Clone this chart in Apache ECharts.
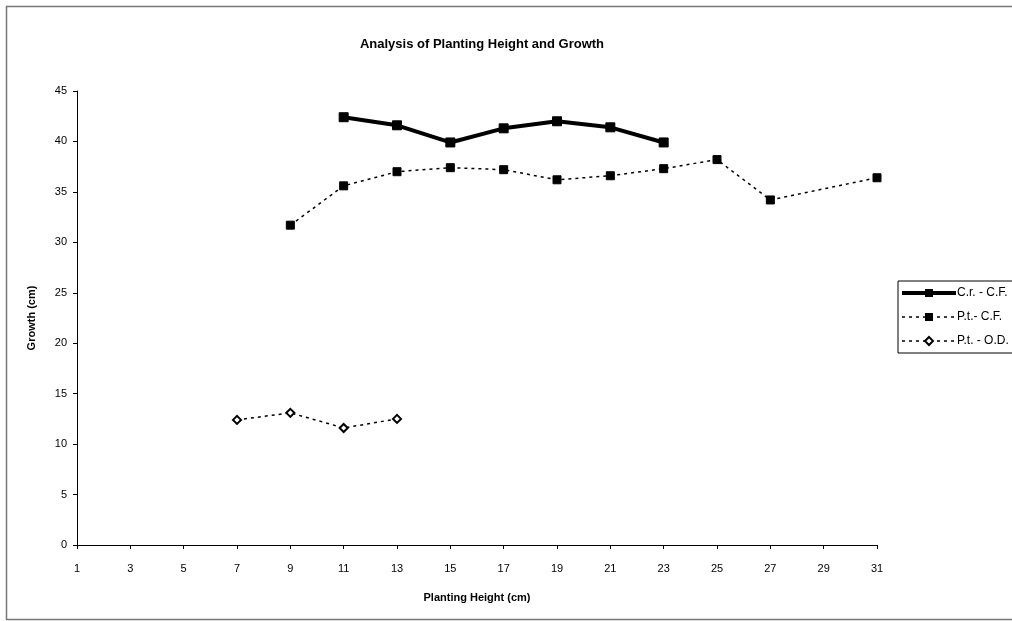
<!DOCTYPE html>
<html>
<head>
<meta charset="utf-8">
<script src="https://cdn.jsdelivr.net/npm/echarts@6/dist/echarts.min.js"></script>
<style>
html,body{margin:0;padding:0;background:#fff;}
#chart{width:1012px;height:621px;}
</style>
</head>
<body>
<div id="chart"></div>
<script>
// Data
var categories = ['1','3','5','7','9','11','13','15','17','19','21','23','25','27','29','31'];
var crCF = [null,null,null,null,null,42.4,41.6,39.9,41.3,42.0,41.4,39.9,null,null,null,null];
var ptCF = [null,null,null,null,31.7,35.6,37.0,37.4,37.2,36.2,36.6,37.3,38.2,34.2,null,36.4];
var ptOD = [null,null,null,12.4,13.1,11.6,12.5,null,null,null,null,null,null,null,null,null];
var yTicks = [0,5,10,15,20,25,30,35,40,45];

var chart = echarts.init(document.getElementById('chart'));
var font = 'Liberation Sans, Arial, sans-serif';
chart.setOption({
  animation: false,
  backgroundColor: '#fff',
  textStyle: {fontFamily: font, color: '#000'},
  title: {
    text: 'Analysis of Planting Height and Growth',
    left: 477, top: 33, textAlign: 'center',
    textStyle: {fontFamily: font, fontSize: 13, fontWeight: 'bold', color: '#000'}
  },
  legend: {
    orient: 'vertical',
    left: 898, top: 281,
    padding: [6, 6, 6, 2],
    itemGap: 12,
    itemWidth: 54, itemHeight: 10,
    borderColor: '#000', borderWidth: 1,
    textStyle: {fontFamily: font, fontSize: 12, color: '#000', padding: [0,0,0,-4]},
    data: [
      {name: 'C.r. - C.F.', lineStyle: {width: 4, color: '#000', type: 'solid'}},
      {name: 'P.t.- C.F.', lineStyle: {width: 1.5, color: '#000', type: [3, 4]}},
      {name: 'P.t. - O.D.', lineStyle: {width: 1.5, color: '#000', type: [3, 4]}}
    ]
  },
  grid: {left: 77, right: 135, top: 91, bottom: 76, containLabel: false},
  xAxis: {
    type: 'category',
    data: categories,
    boundaryGap: false,
    name: 'Planting Height (cm)',
    nameLocation: 'middle',
    nameGap: 47,
    nameTextStyle: {fontFamily: font, fontSize: 11, fontWeight: 'bold', color: '#000'},
    axisLine: {lineStyle: {color: '#000', width: 1}},
    axisTick: {alignWithLabel: true, length: 4, lineStyle: {color: '#000'}},
    axisLabel: {fontFamily: font, fontSize: 11, color: '#000', margin: 18},
    splitLine: {show: false}
  },
  yAxis: {
    type: 'value',
    min: 0, max: 45, interval: 5,
    name: 'Growth (cm)',
    nameLocation: 'middle',
    nameGap: 40,
    nameRotate: 90,
    nameTextStyle: {fontFamily: font, fontSize: 11, fontWeight: 'bold', color: '#000'},
    axisLine: {show: true, lineStyle: {color: '#000', width: 1}},
    axisTick: {show: true, length: 4, lineStyle: {color: '#000'}},
    axisLabel: {fontFamily: font, fontSize: 11, color: '#000', margin: 10,
      formatter: function(v){ return yTicks.indexOf(v) >= 0 ? String(v) : ''; }},
    splitLine: {show: false}
  },
  graphic: [
    {type: 'rect', silent: true, z: -1,
     shape: {x: 6.5, y: 6.5, width: 1030, height: 613},
     style: {fill: null, stroke: '#777', lineWidth: 1.5}}
  ],
  series: [
    {
      name: 'C.r. - C.F.', type: 'line', data: crCF,
      symbol: 'rect', symbolSize: 9,
      lineStyle: {color: '#000', width: 4, type: 'solid'},
      itemStyle: {color: '#000', borderColor: '#000'},
      connectNulls: false
    },
    {
      name: 'P.t.- C.F.', type: 'line', data: ptCF,
      symbol: 'rect', symbolSize: 8,
      lineStyle: {color: '#000', width: 1.5, type: [3, 4]},
      itemStyle: {color: '#000', borderColor: '#000'},
      connectNulls: true
    },
    {
      name: 'P.t. - O.D.', type: 'line', data: ptOD,
      symbol: 'diamond', symbolSize: 8,
      lineStyle: {color: '#000', width: 1.5, type: [3, 4]},
      itemStyle: {color: '#fff', borderColor: '#000', borderWidth: 2},
      connectNulls: false
    }
  ]
});
</script>
</body>
</html>
